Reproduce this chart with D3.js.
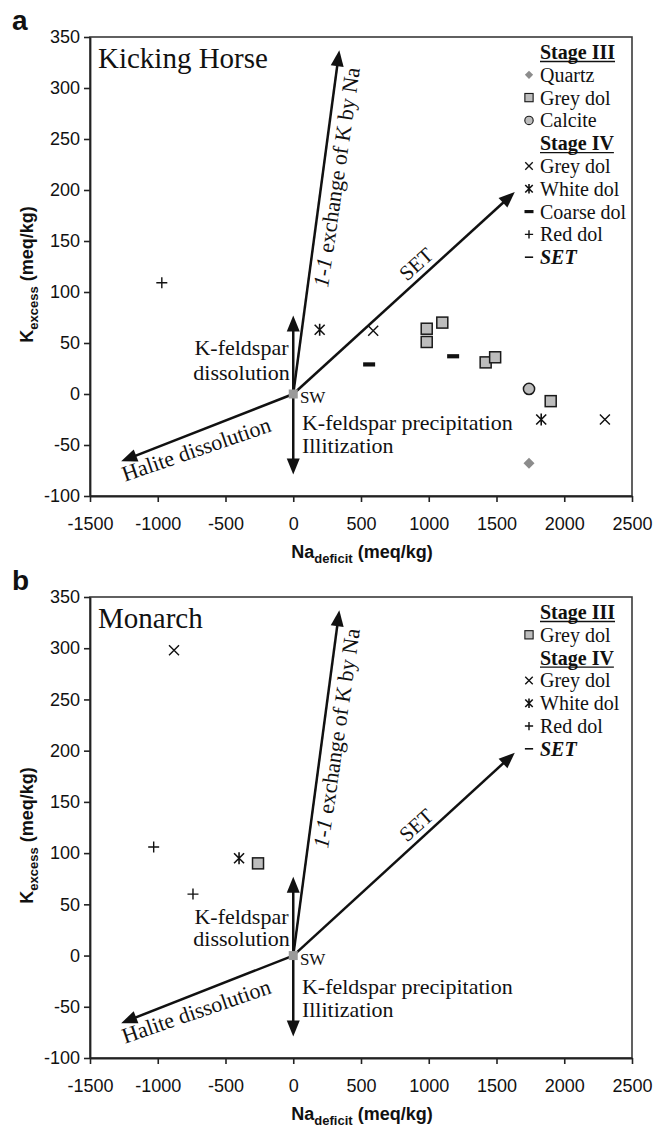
<!DOCTYPE html>
<html><head><meta charset="utf-8">
<script src="https://cdn.jsdelivr.net/npm/d3@7"></script>
<style>
html,body{margin:0;padding:0;background:#fff;}
svg{display:block;}
</style></head><body>
<svg id="chart" width="664" height="1127"></svg>
<script>
// ---------- data ----------
const xTicks = [-1500,-1000,-500,0,500,1000,1500,2000,2500];
const yTicks = [-100,-50,0,50,100,150,200,250,300,350];
const xDomain = [-1500,2500];
const yDomain = [-100,350];

// Kicking Horse (panel a)
const khQuartz     = [[1740,-68]];
const khGreyDolIII = [[985,64],[985,51],[1100,70],[1420,31],[1490,36],[1900,-7]];
const khCalcite    = [[1740,5]];
const khGreyDolIV  = [[590,62],[2300,-25]];
const khWhiteDol   = [[195,63],[1830,-25]];
const khCoarseDol  = [[560,29],[1180,37]];
const khRedDol     = [[-970,109]];

// Monarch (panel b)
const moGreyDolIII = [[-260,90]];
const moGreyDolIV  = [[-880,298]];
const moWhiteDol   = [[-400,95]];
const moRedDol     = [[-1030,106],[-740,60]];

// seawater and process vectors
const seawater   = [[0,0]];
const arrowNames = ["1-1 exchange","SET","Halite dissolution","K-feldspar dissolution","K-feldspar precipitation"];
const arrowTips  = [[340,337],[1635,198],[-1270,-66],[0,77],[0,-79]];

// legends
const khLegend = [["head","Stage III"],["diamond","Quartz"],["square","Grey dol"],["circle","Calcite"],
                  ["head","Stage IV"],["cross","Grey dol"],["star","White dol"],["thick","Coarse dol"],["plus","Red dol"],["thin","SET"]];
const moLegend = [["head","Stage III"],["square","Grey dol"],["head","Stage IV"],
                  ["cross","Grey dol"],["star","White dol"],["plus","Red dol"],["thin","SET"]];

// ---------- drawing ----------
const svg = d3.select("#chart");
const serif = "'Liberation Serif','Times New Roman',serif";
const sans = "'Liberation Sans',Arial,Helvetica,sans-serif";

function drawSym(g, type, cx, cy, k) {
  k = k || 1;
  if (type === "square") {
    const s = 11*k;
    g.append("rect").attr("x",cx-s/2).attr("y",cy-s/2).attr("width",s).attr("height",s)
      .attr("fill","#bdbdbd").attr("stroke","#1a1a1a").attr("stroke-width",1.5*k);
  } else if (type === "circle") {
    g.append("circle").attr("cx",cx).attr("cy",cy).attr("r",5.6*k)
      .attr("fill","#bdbdbd").attr("stroke","#1a1a1a").attr("stroke-width",1.5*k);
  } else if (type === "diamond") {
    const s = 5.5*k;
    g.append("path").attr("d",`M${cx},${cy-s}L${cx+s},${cy}L${cx},${cy+s}L${cx-s},${cy}Z`).attr("fill","#8c8c8c");
  } else if (type === "cross") {
    const s = 5*k;
    g.append("path").attr("d",`M${cx-s},${cy-s}L${cx+s},${cy+s}M${cx-s},${cy+s}L${cx+s},${cy-s}`)
      .attr("stroke","#111").attr("stroke-width",1.4).attr("fill","none");
  } else if (type === "star") {
    const s = 5*k;
    g.append("path").attr("d",`M${cx-s},${cy-s}L${cx+s},${cy+s}M${cx-s},${cy+s}L${cx+s},${cy-s}M${cx},${cy-s-1}L${cx},${cy+s+1}`)
      .attr("stroke","#111").attr("stroke-width",1.6).attr("fill","none");
  } else if (type === "thick") {
    const w = 12*k, h = 4.2*k;
    g.append("rect").attr("x",cx-w/2).attr("y",cy-h/2).attr("width",w).attr("height",h).attr("fill","#111");
  } else if (type === "plus") {
    const s = 5.5*k;
    g.append("path").attr("d",`M${cx-s},${cy}L${cx+s},${cy}M${cx},${cy-s}L${cx},${cy+s}`)
      .attr("stroke","#111").attr("stroke-width",1.4).attr("fill","none");
  } else if (type === "thin") {
    const s = 5.5*k;
    g.append("path").attr("d",`M${cx-s},${cy}L${cx+s},${cy}`).attr("stroke","#111").attr("stroke-width",1.6);
  }
}

function drawPanel(cfg) {
  const L = 90, R = 632, T = cfg.top, B = cfg.bottom;
  const x = d3.scaleLinear().domain(xDomain).range([L,R]);
  const y = d3.scaleLinear().domain(yDomain).range([B,T]);
  const g = svg.append("g");

  // frame
  g.append("rect").attr("x",L).attr("y",T).attr("width",R-L).attr("height",B-T)
    .attr("fill","none").attr("stroke","#3a3a3a").attr("stroke-width",1.6);

  // axes
  const fmt = d => String(d);
  const ax = g.append("g").attr("transform",`translate(0,${B})`)
    .call(d3.axisBottom(x).tickValues(xTicks).tickFormat(fmt).tickSize(6).tickPadding(15).tickSizeOuter(0));
  const ay = g.append("g").attr("transform",`translate(${L},0)`)
    .call(d3.axisLeft(y).tickValues(yTicks).tickFormat(fmt).tickSize(6).tickPadding(4).tickSizeOuter(0));
  [ax,ay].forEach(a=>{
    a.select(".domain").attr("stroke","#222").attr("stroke-width",1.8);
    a.selectAll(".tick line").attr("stroke","#222").attr("stroke-width",1.6);
    a.selectAll(".tick text").attr("font-family",sans).attr("font-size",18).attr("fill","#111");
  });

  // axis titles
  const xt = g.append("text").attr("x",(L+R)/2+1).attr("y",B+62).attr("text-anchor","middle")
    .attr("font-family",sans).attr("font-weight","bold").attr("font-size",18).attr("fill","#111");
  xt.append("tspan").text("Na");
  xt.append("tspan").attr("dy",5).attr("font-size",13).text("deficit");
  xt.append("tspan").attr("dy",-5).text(" (meq/kg)");

  const yt = g.append("text").attr("transform",`translate(33,${(T+B)/2+8}) rotate(-90)`).attr("text-anchor","middle")
    .attr("font-family",sans).attr("font-weight","bold").attr("font-size",18).attr("fill","#111");
  yt.append("tspan").text("K");
  yt.append("tspan").attr("dy",5).attr("font-size",13).text("excess");
  yt.append("tspan").attr("dy",-5).text(" (meq/kg)");

  // panel letter
  g.append("text").attr("x",12).attr("y",T-7).attr("font-family",sans).attr("font-weight","bold")
    .attr("font-size",28).attr("fill","#111").text(cfg.letter);

  // site name
  g.append("text").attr("x",L+8).attr("y",T+31).attr("font-family",serif).attr("font-size",29)
    .attr("fill","#111").text(cfg.site);

  // process arrows
  const o = [x(0), y(0)];
  arrowTips.forEach((tip,i)=>{
    const p = [x(tip[0]), y(tip[1])];
    const dx = p[0]-o[0], dy = p[1]-o[1], len = Math.hypot(dx,dy);
    const ux = dx/len, uy = dy/len, nx = -uy, ny = ux;
    const hl = 16, hw = 6.5;
    const bx = p[0]-hl*ux, by = p[1]-hl*uy;
    g.append("line").attr("x1",o[0]).attr("y1",o[1]).attr("x2",p[0]-hl*0.6*ux).attr("y2",p[1]-hl*0.6*uy)
      .attr("stroke","#111").attr("stroke-width",2.5);
    g.append("path").attr("d",`M${p[0]},${p[1]}L${bx+hw*nx},${by+hw*ny}L${bx-hw*nx},${by-hw*ny}Z`)
      .attr("fill","#111").attr("data-name",arrowNames[i]);
  });

  // seawater
  seawater.forEach(d=>{
    g.append("rect").attr("x",x(d[0])-4.5).attr("y",y(d[1])-4.5).attr("width",9).attr("height",9).attr("fill","#9a9a9a");
  });

  // annotations
  cfg.notes.forEach(n=>{
    const t = g.append("text").attr("transform",`translate(${x(n[1])},${y(n[2])}) rotate(${n[3]})`)
      .attr("text-anchor",n[4]).attr("font-family",serif).attr("font-size",n[5]).attr("fill","#111");
    if (n[0].startsWith("1-1")) {
      t.append("tspan").attr("font-style","italic").text("1-1");
      t.append("tspan").attr("font-style","normal").text(n[0].slice(3));
    } else t.text(n[0]);
  });

  // data points
  cfg.series.forEach(s=>{
    s[1].forEach(d=>drawSym(g, s[0], x(d[0]), y(d[1]), 1));
  });

  // legend
  const lx = 540, mx = 529;
  cfg.legend.forEach((e,i)=>{
    const by = T + 22 + i*22.8;
    if (e[0]==="head") {
      const t = g.append("text").attr("x",lx).attr("y",by).attr("font-family",serif).attr("font-weight","bold")
        .attr("font-size",20).attr("fill","#111").text(e[1]);
      const w = t.node().getComputedTextLength();
      g.append("line").attr("x1",lx).attr("x2",lx+w).attr("y1",by+2.5).attr("y2",by+2.5).attr("stroke","#111").attr("stroke-width",1.3);
    } else {
      drawSym(g, e[0], mx, by-7, 0.75);
      const t = g.append("text").attr("x",lx).attr("y",by).attr("font-family",serif)
        .attr("font-size",20).attr("fill","#111").text(e[1]);
      if (e[0]==="thin") t.attr("font-weight","bold").attr("font-style","italic");
    }
  });
}

drawPanel({
  top:37, bottom:496, letter:"a", site:"Kicking Horse", legend:khLegend,
  series:[["diamond",khQuartz],["square",khGreyDolIII],["circle",khCalcite],["cross",khGreyDolIV],
          ["star",khWhiteDol],["thick",khCoarseDol],["plus",khRedDol]],
  notes:[["1-1 exchange of K by Na",256,104,-81.7,"start",22],
         ["SET",840,110,-42,"start",21],
         ["Halite dissolution",-1242,-86,-19,"start",22],
         ["K-feldspar",-35,38,0,"end",22],
         ["dissolution",-25,14,0,"end",22],
         ["SW",49,-9,0,"start",17],
         ["K-feldspar precipitation",64,-35,0,"start",22],
         ["Illitization",64,-58,0,"start",22]]
});
drawPanel({
  top:597, bottom:1058, letter:"b", site:"Monarch", legend:moLegend,
  series:[["square",moGreyDolIII],["cross",moGreyDolIV],["star",moWhiteDol],["plus",moRedDol]],
  notes:[["1-1 exchange of K by Na",256,104,-81.7,"start",22],
         ["SET",840,110,-42,"start",21],
         ["Halite dissolution",-1242,-86,-19,"start",22],
         ["K-feldspar",-35,31,0,"end",22],
         ["dissolution",-25,9,0,"end",22],
         ["SW",49,-9,0,"start",17],
         ["K-feldspar precipitation",64,-38,0,"start",22],
         ["Illitization",64,-60,0,"start",22]]
});
</script>
</body></html>
